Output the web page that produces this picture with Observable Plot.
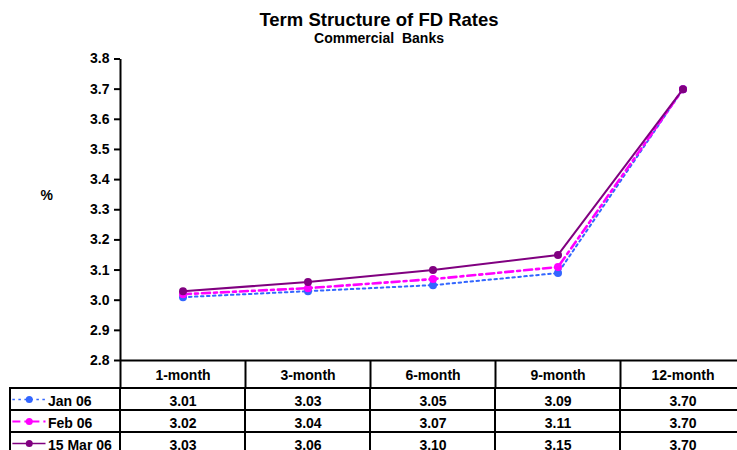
<!DOCTYPE html>
<html>
<head>
<meta charset="utf-8">
<script src="https://cdn.jsdelivr.net/npm/d3@7"></script>
<script src="https://cdn.jsdelivr.net/npm/@observablehq/plot@0.6"></script>
<style>
  html, body { margin: 0; padding: 0; background: #fff; width: 737px; height: 450px; overflow: hidden; }
  #chart { width: 760px; font-family: "Liberation Sans", Arial, sans-serif; font-weight: bold; color: #000; }
  #head { height: 48px; width: 758px; text-align: center; }
  #head .title { font-size: 18.5px; line-height: 21px; padding-top: 9px; }
  #head .subtitle { font-size: 14px; line-height: 16px; white-space: pre; }
  #chart svg { display: block; }
</style>
</head>
<body>
<div id="chart">
  <div id="head">
    <div class="title">Term Structure of FD Rates</div>
    <div class="subtitle">Commercial  Banks</div>
  </div>
</div>
<script>
// Fixed-deposit rates (%) by tenor, commercial banks
const tenors = ["1-month", "3-month", "6-month", "9-month", "12-month"];
const seriesNames = ["Jan 06", "Feb 06", "15 Mar 06"];
const jan06 = [3.01, 3.03, 3.05, 3.09, 3.70];
const feb06 = [3.02, 3.04, 3.07, 3.11, 3.70];
const mar06 = [3.03, 3.06, 3.10, 3.15, 3.70];
const yTicks = [2.8, 2.9, 3.0, 3.1, 3.2, 3.3, 3.4, 3.5, 3.6, 3.7, 3.8];

// Line styles per series
const styles = {
  "Jan 06":    {color: "#3366FF", width: 2,   dash: "2.5,3.5"},
  "Feb 06":    {color: "#FF00FF", width: 2.6, dash: "8,4,3,4"},
  "15 Mar 06": {color: "#800080", width: 2,   dash: null}
};

const series = [
  {name: seriesNames[0], values: jan06},
  {name: seriesNames[1], values: feb06},
  {name: seriesNames[2], values: mar06}
];

// One column per tenor on a shared linear grid; points sit at column centres
const points = series.flatMap(s => s.values.map((v, i) => ({series: s.name, pos: i + 0.5, value: v})));
const xScale = {type: "linear", domain: [0, tenors.length], range: [120, 745]};

// Legend column to the left of the table (in column units)
const legendLeft = -0.88;
const swatchFrom = -0.865, swatchTo = -0.6, swatchDot = -0.73, legendText = -0.58;

const baseStyle = {
  fontFamily: "'Liberation Sans', Arial, sans-serif",
  fontSize: "14px",
  fontWeight: "bold",
  background: "transparent",
  overflow: "visible",
  maxWidth: "none"
};

const lineMarks = series.flatMap(s => {
  const st = styles[s.name];
  const pts = points.filter(p => p.series === s.name);
  return [
    Plot.line(pts, {x: "pos", y: "value", stroke: st.color, strokeWidth: st.width, strokeDasharray: st.dash ?? undefined}),
    Plot.dot(pts, {x: "pos", y: "value", r: 4, fill: st.color, stroke: "none"})
  ];
});

const main = Plot.plot({
  width: 745,
  height: 339,
  marginLeft: 120,
  marginRight: 0,
  marginTop: 11,
  marginBottom: 27,
  style: baseStyle,
  x: xScale,
  y: {domain: [2.8, 3.8], range: [312, 10.5]},
  marks: [
    Plot.axisY({ticks: yTicks, tickFormat: ".1f", tickSize: 6, tickPadding: 5, strokeWidth: 2, label: null}),
    Plot.axisX({ticks: d3.range(tenors.length + 1), tickFormat: () => "", tickSize: 27, strokeWidth: 2, label: null}),
    Plot.axisX({ticks: tenors.map((t, i) => i + 0.5), tickFormat: d => tenors[Math.round(d - 0.5)], tickSize: 0, tickPadding: 10, label: null}),
    Plot.ruleY([2.8], {strokeWidth: 2}),
    Plot.ruleX([0], {strokeWidth: 2}),
    Plot.text(["%"], {text: d => d, frameAnchor: "left", dx: -74 - 6, dy: -14}),
    ...lineMarks
  ]
});

// Data table below the chart, one row per series
const cells = series.flatMap(s => [
  {series: s.name, x1: legendLeft, x2: 0},
  ...tenors.map((t, i) => ({series: s.name, x1: i, x2: i + 1}))
]);

const swatches = series.map(s => ({series: s.name, ...styles[s.name]}));

const table = Plot.plot({
  width: 745,
  height: 70,
  marginLeft: 10,
  marginRight: 0,
  marginTop: 0,
  marginBottom: 3,
  style: baseStyle,
  x: {...xScale, axis: null},
  y: {type: "band", domain: seriesNames, range: [0, 67], padding: 0, axis: null},
  marks: [
    Plot.barX(cells, {x1: "x1", x2: "x2", y: "series", fill: "none", stroke: "black", strokeWidth: 2}),
    ...swatches.map(s => Plot.link([s], {x1: swatchFrom, x2: swatchTo, y1: "series", y2: "series", stroke: s.color, strokeWidth: s.width * 0.8, strokeDasharray: s.dash ?? undefined})),
    ...swatches.map(s => Plot.dot([s], {x: swatchDot, y: "series", r: 3.5, fill: s.color, stroke: "none"})),
    Plot.text(seriesNames, {x: legendText, y: d => d, text: d => d, textAnchor: "start", dy: 2}),
    Plot.text(points, {x: "pos", y: "series", text: d => d.value.toFixed(2), dy: 2})
  ]
});

const chart = document.getElementById("chart");
chart.appendChild(main);
chart.appendChild(table);
</script>
</body>
</html>
